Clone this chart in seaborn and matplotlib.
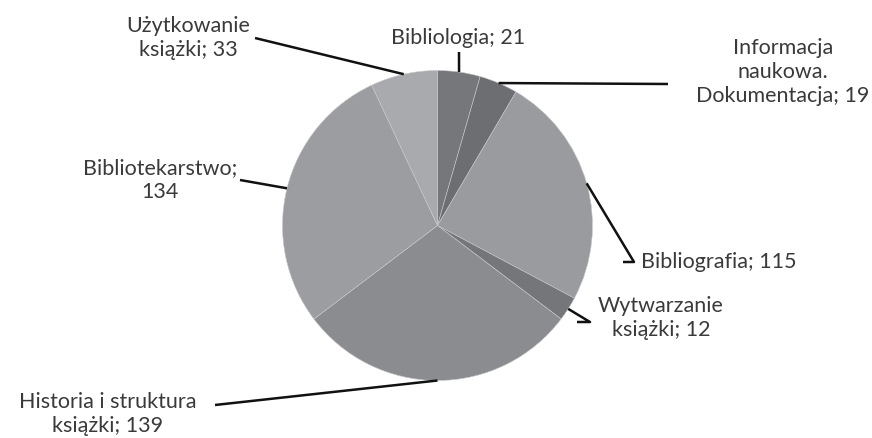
import matplotlib
matplotlib.use('Agg')
import numpy as np
import seaborn as sns
from matplotlib import pyplot as plt

sns.set_style("white")
plt.rcParams['font.family'] = ['Lato', 'DejaVu Sans']

categories = ['Bibliologia', 'Informacja\nnaukowa.\nDokumentacja', 'Bibliografia',
              'Wytwarzanie\nksiążki', 'Historia i struktura\nksiążki', 'Bibliotekarstwo;\n',
              'Użytkowanie\nksiążki']
values = [21, 19, 115, 12, 139, 134, 33]
colors = ['#76777b', '#6d6e72', '#9a9b9f', '#75767a', '#8b8c90', '#9c9da1', '#a9aaae']

W, H = 872, 438
cx, cy, r = 437.5, H - 225.5, 155

# label text position (pixels, y down), alignment, and leader path end points
label_pos = [
    ((458, 38), 'center', [(459, 52)]),
    ((783, 72), 'center', [(668, 84)]),
    ((641, 262), 'left', [(623, 262), (634, 262)]),
    ((661, 318), 'center', [(577, 322), (590, 322)]),
    ((108, 414), 'center', [(215, 405)]),
    ((160, 180), 'center', [(240, 180)]),
    ((188, 38), 'center', [(255, 38)]),
]

fig = plt.figure(figsize=(W / 100, H / 100), dpi=100)
ax = fig.add_axes([0, 0, 1, 1])
wedges, _ = ax.pie(values, colors=colors, startangle=90, counterclock=False,
                   center=(cx, cy), radius=r, frame=True,
                   wedgeprops=dict(edgecolor='#c8c8cc', linewidth=0.4))
ax.set_xlim(0, W)
ax.set_ylim(0, H)
ax.set_aspect('equal')
ax.axis('off')

for w, cat, val, (pos, ha, path) in zip(wedges, categories, values, label_pos):
    ang = np.deg2rad((w.theta1 + w.theta2) / 2)
    x0, y0 = cx + r * np.cos(ang), cy + r * np.sin(ang)
    xs = [x0] + [p[0] for p in path][::-1]
    ys = [y0] + [H - p[1] for p in path][::-1]
    ax.plot(xs, ys, color='#111111', lw=1.8, solid_capstyle='butt')
    if cat.endswith(';\n'):
        txt = cat + str(val)
    else:
        txt = cat + '; ' + str(val)
    ax.text(pos[0], H - pos[1], txt, ha=ha, va='center', multialignment='center',
            fontsize=15.5, color='#3a3a3a', linespacing=1.25)

fig.savefig('out.png', dpi=100)
